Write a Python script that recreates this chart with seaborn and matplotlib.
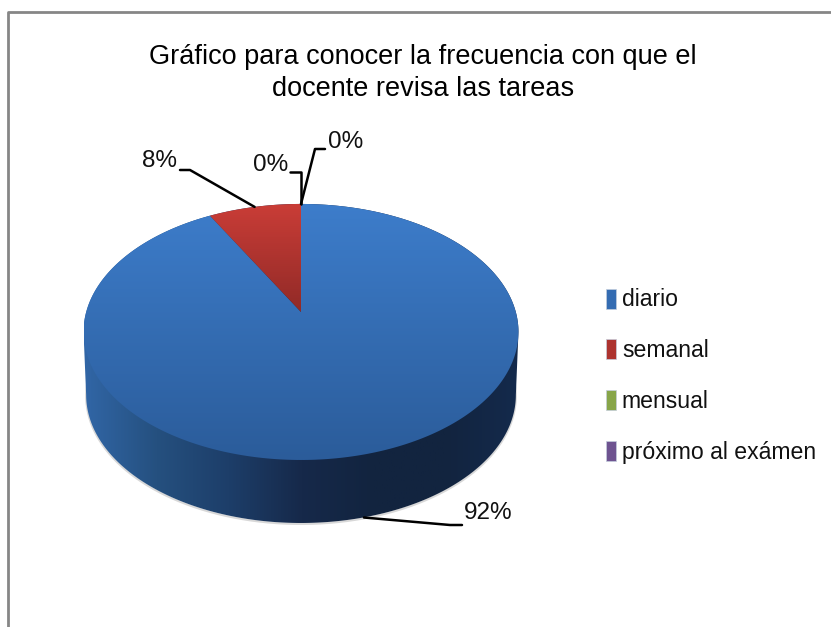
import numpy as np
import matplotlib.pyplot as plt
import seaborn as sns
from matplotlib.patches import Patch, Polygon

categories = ['diario', 'semanal', 'mensual', 'próximo al exámen']
percent = [92, 8, 0, 0]
title = 'Gráfico para conocer la frecuencia con que el\ndocente revisa las tareas'

# colores (arriba, abajo) de cada porcion
top_colors = ['#3d7dcb', '#ca3d37', '#98b954', '#7d5fa0']
bottom_colors = ['#2b5c9a', '#912a27', '#76913f', '#5f4880']
side_colors = ['#3166a6', '#25507f', '#1d3e69', '#16294a', '#12243f', '#12243f', '#142a4c']

sns.set_style('white')
plt.rcParams['font.family'] = ['Liberation Sans', 'DejaVu Sans']

# geometria de la perspectiva, en pixeles de la imagen
cx, cy = 301, 312
a, b, k = 214.8, 124.9, 0.156
depth = 63


def project(theta, shrink=1.0, dy=0):
    # angulo desde arriba, en sentido horario
    u, v = np.sin(theta), np.cos(theta)
    d = 1 + k * v
    return np.column_stack([cx + shrink * a * u / d, cy - b * v / d + dy])


def gradient(ax, pts, cmap, horizontal=False):
    x0, x1 = pts[:, 0].min(), pts[:, 0].max()
    y0, y1 = pts[:, 1].min(), pts[:, 1].max()
    g = np.linspace(0, 1, 256)
    g = g.reshape(1, -1) if horizontal else g.reshape(-1, 1)
    im = ax.imshow(g, cmap=cmap, extent=(x0, x1, y1, y0), aspect='auto', zorder=2)
    patch = Polygon(pts, closed=True, transform=ax.transData, fc='none', ec='none')
    ax.add_patch(patch)
    im.set_clip_path(patch)


fig = plt.figure(figsize=(8.31, 6.27), dpi=100)
ax = fig.add_axes([0, 0, 1, 1])

# lateral
t = np.linspace(0, 2 * np.pi, 721)
top_edge = project(t)
low_edge = project(t, shrink=0.988, dy=depth)
i_r, i_l = top_edge[:, 0].argmax(), top_edge[:, 0].argmin()
side = np.vstack([low_edge[i_r:i_l + 1], top_edge[i_l:], top_edge[:i_r + 1]])
ax.plot(low_edge[:, 0], low_edge[:, 1] + 1, color='#d8d8d8', lw=1.5, zorder=1)
gradient(ax, side, sns.blend_palette(side_colors, as_cmap=True), horizontal=True)

# cara superior
edges = np.cumsum([0] + percent) / sum(percent) * 2 * np.pi
for i, v in enumerate(percent):
    if v == 0:
        continue
    arc = project(np.linspace(edges[i], edges[i + 1], 361))
    pts = np.vstack([[cx, cy], arc])
    gradient(ax, pts, sns.blend_palette([top_colors[i], bottom_colors[i]], as_cmap=True))

# etiquetas con lineas guia
mid = (edges[:-1] + edges[1:]) / 2
anchors = project(mid)
anchors[0, 1] += depth
leaders = [
    [(450, 525), (462, 525)],
    [(190, 170), (180, 170)],
    [(301, 172), (290, 172)],
    [(315, 149), (325, 149)],
]
text_pos = [(464, 513), (142, 161), (253, 165), (328, 142)]
for i, v in enumerate(percent):
    path = np.vstack([anchors[i], leaders[i]])
    ax.plot(path[:, 0], path[:, 1], color='black', lw=1.8, zorder=3, solid_joinstyle='round')
    ax.text(text_pos[i][0], text_pos[i][1], f'{v}%', fontsize=17.5, color='#111111',
            ha='left', va='center', zorder=4)

ax.text(423, 73, title, fontsize=19.5, color='black', ha='center', va='center',
        linespacing=1.25)

# leyenda
handles = [Patch(facecolor=sns.blend_palette([c1, c2], 3)[1], edgecolor='#c4cedd', linewidth=0.5)
           for c1, c2 in zip(top_colors, bottom_colors)]
ax.legend(handles, categories, loc='center left', bbox_to_anchor=(606 / 831, 1 - 376 / 627),
          frameon=False, fontsize=16.6, handlelength=0.43, handleheight=0.95,
          handletextpad=0.26, labelspacing=1.2, borderpad=0, borderaxespad=0,
          labelcolor='#111111')

# marco del grafico
ax.plot([8, 8, 831], [627, 12, 12], color='#868686', lw=2, zorder=5, clip_on=False)

ax.set_xlim(0, 831)
ax.set_ylim(627, 0)
ax.axis('off')
fig.savefig('out.png', dpi=100, facecolor='white')
